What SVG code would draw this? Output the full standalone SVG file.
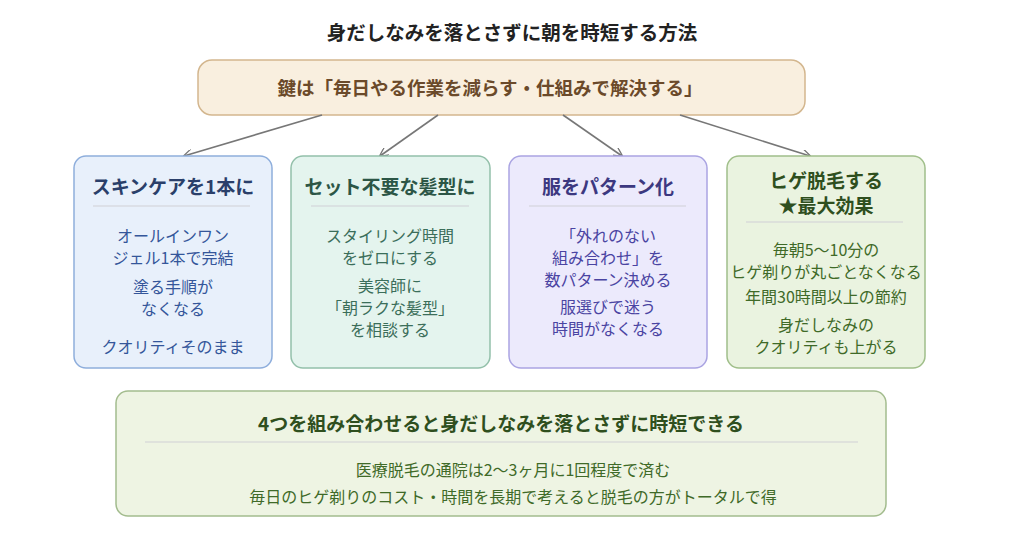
<svg xmlns="http://www.w3.org/2000/svg" width="1024" height="543" viewBox="0 0 1024 543">
<defs>
<marker id="ah" viewBox="0 0 10 10" refX="9" refY="5" markerWidth="9" markerHeight="9" orient="auto-start-reverse" markerUnits="userSpaceOnUse"><path d="M0,0 L10,5 L0,10" fill="none" stroke="#777" stroke-width="1.5"/></marker>
</defs>
<style>
text{font-family:"Noto Sans CJK JP","Noto Sans",sans-serif;text-anchor:middle}
.t{font-size:19.5px;font-weight:bold;fill:#222}
.k{font-size:18.5px;font-weight:bold}
.h{font-size:19px;font-weight:bold}
.s{font-size:19px;font-weight:bold}
.b{font-size:16px}
.sep{stroke:#d0d0d6;stroke-width:1.2}
.c line{stroke:#777;stroke-width:1.6;marker-end:url(#ah)}
</style>
<rect width="1024" height="543" fill="#fff"/>
<text class="t" x="512" y="40">身だしなみを落とさずに朝を時短する方法</text>
<g id="key">
<rect x="198" y="60" width="607" height="55" rx="14" fill="#f9efdf" stroke="#d3b68e" stroke-width="1.5"/>
<text class="k" x="490" y="95" fill="#6b4a2a">鍵は「毎日やる作業を減らす・仕組みで解決する」</text>
</g>
<g class="c" id="connectors">
<line x1="322" y1="115" x2="184" y2="156"/>
<line x1="438" y1="115" x2="380" y2="156"/>
<line x1="563" y1="115" x2="622" y2="156"/>
<line x1="680" y1="115" x2="810" y2="156"/>
</g>
<g id="skin">
<rect x="74" y="156" width="198" height="212" rx="12" fill="#e8f0fb" stroke="#8eaedc" stroke-width="1.5"/>
<text class="h" x="173" y="194" fill="#2a3f6a">スキンケアを1本に</text>
<line class="sep" x1="93" y1="206" x2="250" y2="206"/>
<g class="b" fill="#34569a"><text x="173" y="242">オールインワン</text><text x="173" y="264">ジェル1本で完結</text><text x="173" y="293">塗る手順が</text><text x="173" y="315">なくなる</text><text x="173" y="353">クオリティそのまま</text></g>
</g>
<g id="hair">
<rect x="291" y="156" width="199" height="212" rx="12" fill="#e4f4ee" stroke="#93c0aa" stroke-width="1.5"/>
<text class="h" x="390" y="194" fill="#2c5646">セット不要な髪型に</text>
<line class="sep" x1="311" y1="206" x2="469" y2="206"/>
<g class="b" fill="#3b6e5a"><text x="390" y="242">スタイリング時間</text><text x="390" y="264">をゼロにする</text><text x="390" y="292">美容師に</text><text x="390" y="314">「朝ラクな髪型」</text><text x="390" y="336">を相談する</text></g>
</g>
<g id="clothes">
<rect x="509" y="156" width="198" height="212" rx="12" fill="#eceafc" stroke="#aaa4e2" stroke-width="1.5"/>
<text class="h" x="608" y="194" fill="#3c3880">服をパターン化</text>
<line class="sep" x1="529" y1="206" x2="686" y2="206"/>
<g class="b" fill="#4a44a2"><text x="608" y="242">「外れのない</text><text x="608" y="264">組み合わせ」を</text><text x="608" y="286">数パターン決める</text><text x="608" y="313">服選びで迷う</text><text x="608" y="335">時間がなくなる</text></g>
</g>
<g id="beard">
<rect x="727" y="156" width="198" height="212" rx="12" fill="#eaf3e0" stroke="#a0bf8a" stroke-width="1.5"/>
<text class="h" x="826" y="188" fill="#2f4f1e">ヒゲ脱毛する</text>
<text class="h" x="826" y="213" fill="#2f4f1e">★最大効果</text>
<line class="sep" x1="746" y1="222" x2="903" y2="222"/>
<g class="b" fill="#3f6a28"><text x="826" y="256">毎朝5〜10分の</text><text x="826" y="278">ヒゲ剃りが丸ごとなくなる</text><text x="826" y="303">年間30時間以上の節約</text><text x="826" y="331">身だしなみの</text><text x="826" y="353">クオリティも上がる</text></g>
</g>
<g id="summary">
<rect x="116" y="391" width="770" height="125" rx="12" fill="#eef4e3" stroke="#a3bc8e" stroke-width="1.5"/>
<text class="s" x="501" y="431" fill="#2f4f1e">4つを組み合わせると身だしなみを落とさずに時短できる</text>
<line class="sep" x1="145" y1="442" x2="858" y2="442"/>
<g class="b" fill="#3f6a28"><text x="513" y="476">医療脱毛の通院は2〜3ヶ月に1回程度で済む</text><text x="513" y="503">毎日のヒゲ剃りのコスト・時間を長期で考えると脱毛の方がトータルで得</text></g>
</g>
</svg>
